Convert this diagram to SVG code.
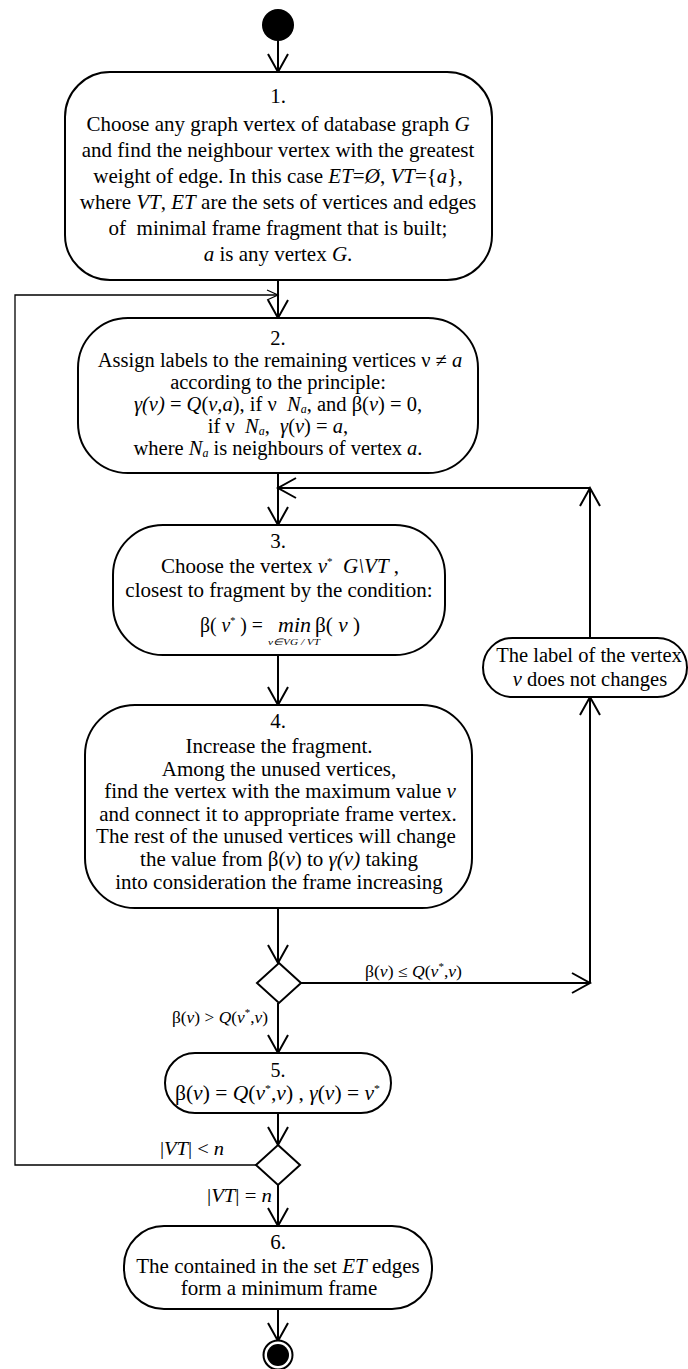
<svg xmlns="http://www.w3.org/2000/svg" width="688" height="1369" viewBox="0 0 688 1369">
<style>
.n{fill:#fff;stroke:#000;stroke-width:2}
text{font-family:"Liberation Serif","Times New Roman",serif;fill:#000}
.m{text-anchor:middle}
.i{font-style:italic}
.c{fill:none;stroke:#000;stroke-width:2}
.thin{fill:none;stroke:#000;stroke-width:1.3}
</style>
<defs>
<marker id="a" viewBox="0 0 18 20" refX="18" refY="10" markerWidth="18" markerHeight="20" markerUnits="userSpaceOnUse" orient="auto" overflow="visible">
<path d="M0,0 L18,10 L0,20" fill="none" stroke="#000" stroke-width="2"/>
</marker>
<marker id="s" viewBox="0 0 11 10" refX="11" refY="5" markerWidth="11" markerHeight="10" markerUnits="userSpaceOnUse" orient="auto" overflow="visible">
<path d="M0,0 L11,5 L0,10" fill="none" stroke="#000" stroke-width="1.2"/>
</marker>
</defs>
<g id="connectors">
<path class="c" d="M278,41 V72" marker-end="url(#a)"/>
<path class="c" d="M278,280 V318" marker-end="url(#a)"/>
<path class="thin" d="M256,1165 H15 V295 H278" marker-end="url(#s)"/>
<path class="c" d="M278,473 V525" marker-end="url(#a)"/>
<path class="c" d="M590,638 V488" marker-end="url(#a)"/>
<path class="c" d="M590,488 H278" marker-end="url(#a)"/>
<path class="c" d="M278,655 V705" marker-end="url(#a)"/>
<path class="c" d="M278,908 V963" marker-end="url(#a)"/>
<path class="c" d="M301,983 H590" marker-end="url(#a)"/>
<path class="c" d="M590,983 V697" marker-end="url(#a)"/>
<path class="c" d="M278,1003 V1053" marker-end="url(#a)"/>
<path class="c" d="M278,1113 V1145" marker-end="url(#a)"/>
<path class="c" d="M278,1185 V1226" marker-end="url(#a)"/>
<path class="c" d="M278,1309 V1341" marker-end="url(#a)"/>
<g font-size="16">
<text x="365" y="977" textLength="97" lengthAdjust="spacingAndGlyphs">β(<tspan class="i">v</tspan>) ≤ <tspan class="i">Q</tspan>(<tspan class="i">v</tspan><tspan font-size="10" dy="-7">*</tspan><tspan dy="7">,</tspan><tspan class="i">v</tspan>)</text>
<text x="172" y="1023" textLength="96" lengthAdjust="spacingAndGlyphs">β(<tspan class="i">v</tspan>) &gt; <tspan class="i">Q</tspan>(<tspan class="i">v</tspan><tspan font-size="10" dy="-7">*</tspan><tspan dy="7">,</tspan><tspan class="i">v</tspan>)</text>
</g>
<g font-size="19">
<text x="160" y="1155" textLength="64" lengthAdjust="spacingAndGlyphs">|<tspan class="i">VT</tspan>| &lt; <tspan class="i">n</tspan></text>
<text x="207" y="1202" textLength="65" lengthAdjust="spacingAndGlyphs">|<tspan class="i">VT</tspan>| = <tspan class="i">n</tspan></text>
</g>
</g>
<g id="start"><circle cx="278" cy="25" r="16" fill="#000"/></g>
<g id="node1" font-size="21">
<rect class="n" x="65" y="72" width="427" height="208" rx="45" ry="45"/>
<text class="m" x="278" y="103">1.</text>
<text class="m" x="278" y="131">Choose any graph vertex of database graph <tspan class="i">G</tspan></text>
<text class="m" x="278" y="157">and find the neighbour vertex with the greatest</text>
<text class="m" x="278" y="183">weight of edge. In this case <tspan class="i">ET</tspan>=<tspan class="i">Ø</tspan>, <tspan class="i">VT</tspan>={<tspan class="i">a</tspan>},</text>
<text class="m" x="278" y="209">where <tspan class="i">VT</tspan>, <tspan class="i">ET</tspan> are the sets of vertices and edges</text>
<text class="m" x="278" y="235">of&#160;&#160;minimal frame fragment that is built;</text>
<text class="m" x="278" y="261"><tspan class="i">a</tspan> is any vertex <tspan class="i">G</tspan>.</text>
</g>
<g id="node2" font-size="20.5">
<rect class="n" x="78" y="318" width="400" height="155" rx="50" ry="50"/>
<text class="m" x="278" y="345">2.</text>
<text class="m" x="280" y="367">Assign labels to the remaining vertices ν ≠ <tspan class="i">a</tspan></text>
<text class="m" x="278" y="389">according to the principle:</text>
<text class="m" x="278" y="411"><tspan class="i">γ(v)</tspan> = <tspan class="i">Q</tspan>(<tspan class="i">v</tspan>,<tspan class="i">a</tspan>), if ν&#160;&#160;<tspan class="i">N</tspan><tspan class="i" font-size="12" dy="2">a</tspan><tspan dy="-2">, and β(</tspan><tspan class="i">v</tspan>) = 0,</text>
<text class="m" x="278" y="433">if ν&#160;&#160;<tspan class="i">N</tspan><tspan class="i" font-size="12" dy="2">a</tspan><tspan dy="-2">,&#160;&#160;</tspan><tspan class="i">γ</tspan>(<tspan class="i">v</tspan>) = <tspan class="i">a</tspan>,</text>
<text class="m" x="278" y="455">where <tspan class="i">N</tspan><tspan class="i" font-size="12" dy="2">a</tspan><tspan dy="-2"> is neighbours of vertex </tspan><tspan class="i">a</tspan>.</text>
</g>
<g id="node3" font-size="21">
<rect class="n" x="113" y="525" width="332" height="130" rx="50" ry="50"/>
<text class="m" x="278" y="548">3.</text>
<text class="m" x="280" y="573">Choose the vertex <tspan class="i">v</tspan><tspan font-size="11" dy="-8">*</tspan><tspan dy="8">&#160;&#160;</tspan><tspan class="i">G\VT</tspan> ,</text>
<text class="m" x="279" y="597">closest to fragment by the condition:</text>
<text x="200" y="632" textLength="63" lengthAdjust="spacingAndGlyphs">β( <tspan class="i">v</tspan><tspan font-size="11" dy="-8">*</tspan><tspan dy="8"> ) =</tspan></text>
<text class="i" x="278" y="632" textLength="33" lengthAdjust="spacingAndGlyphs">min</text>
<text class="i" x="268" y="645" font-size="9" textLength="52" lengthAdjust="spacingAndGlyphs">v∈VG / VT</text>
<text x="315" y="632" textLength="45" lengthAdjust="spacingAndGlyphs">β( <tspan class="i">v</tspan> )</text>
</g>
<g id="node-label" font-size="20.5">
<rect class="n" x="483" y="638" width="204" height="59" rx="29.5" ry="29.5"/>
<text class="m" x="589" y="662">The label of the vertex</text>
<text class="m" x="590" y="686"><tspan class="i">v</tspan> does not changes</text>
</g>
<g id="node4" font-size="21">
<rect class="n" x="85" y="705" width="387" height="203" rx="50" ry="50"/>
<text class="m" x="278" y="728">4.</text>
<text class="m" x="279" y="753">Increase the fragment.</text>
<text class="m" x="279" y="776">Among the unused vertices,</text>
<text class="m" x="280" y="798">find the vertex with the maximum value <tspan class="i">v</tspan></text>
<text class="m" x="278" y="821">and connect it to appropriate frame vertex.</text>
<text class="m" x="276" y="843">The rest of the unused vertices will change</text>
<text class="m" x="279" y="866">the value from β(<tspan class="i">v</tspan>) to <tspan class="i">γ(v)</tspan> taking</text>
<text class="m" x="279" y="889">into consideration the frame increasing</text>
</g>
<g id="decision1"><path class="n" d="M279,963 L301,983 L279,1003 L257,983 Z"/></g>
<g id="node5" font-size="20">
<rect class="n" x="165" y="1053" width="226" height="60" rx="30" ry="30"/>
<text class="m" x="278" y="1077">5.</text>
<text x="175" y="1100" textLength="205" lengthAdjust="spacingAndGlyphs">β(<tspan class="i">v</tspan>) = <tspan class="i">Q</tspan>(<tspan class="i">v</tspan><tspan font-size="11" dy="-8">*</tspan><tspan dy="8">,</tspan><tspan class="i">v</tspan>) , <tspan class="i">γ</tspan>(<tspan class="i">v</tspan>) = <tspan class="i">v</tspan><tspan font-size="11" dy="-8">*</tspan></text>
</g>
<g id="decision2"><path class="n" d="M278,1145 L300,1165 L278,1185 L256,1165 Z"/></g>
<g id="node6" font-size="21">
<rect class="n" x="124" y="1226" width="308" height="83" rx="40" ry="40"/>
<text class="m" x="278" y="1249">6.</text>
<text class="m" x="278" y="1273">The contained in the set <tspan class="i">ET</tspan> edges</text>
<text class="m" x="279" y="1295">form a minimum frame</text>
</g>
<g id="end">
<circle cx="278" cy="1355" r="14.5" fill="#fff" stroke="#000" stroke-width="2"/>
<circle cx="278" cy="1355" r="11" fill="#000"/>
</g>
</svg>
